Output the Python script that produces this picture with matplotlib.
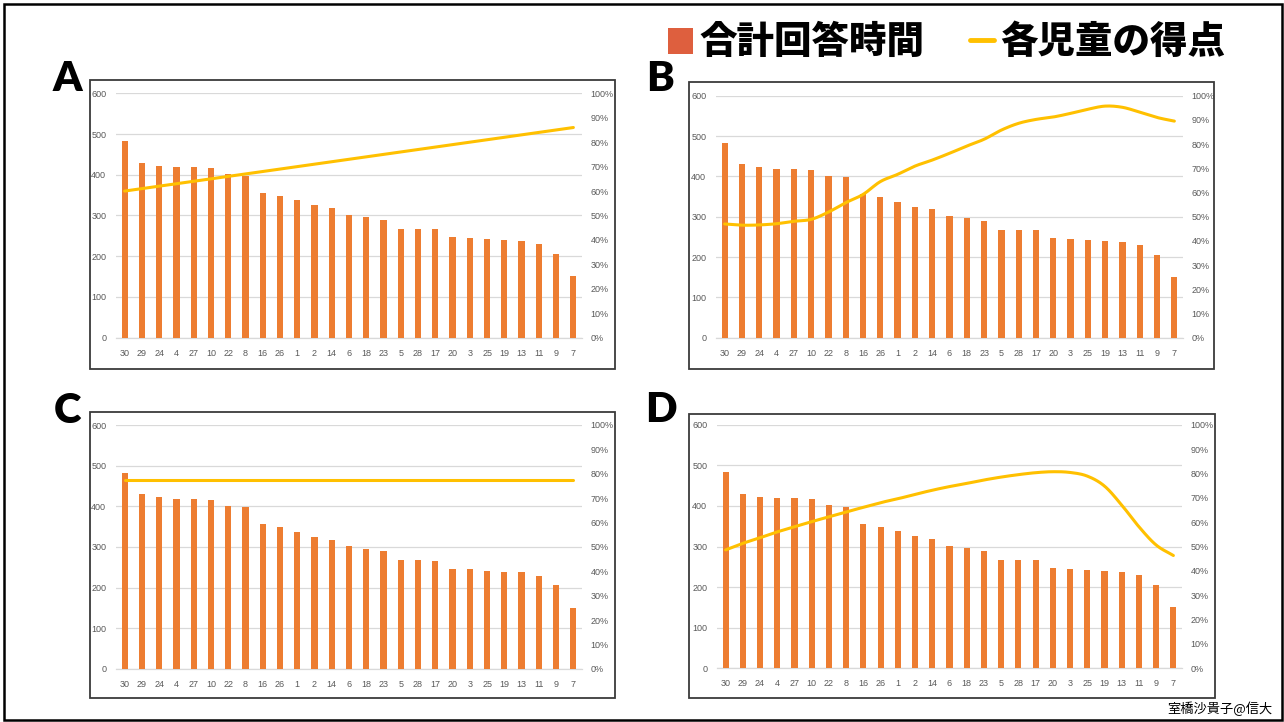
import numpy as np
import matplotlib
matplotlib.use("Agg")
import matplotlib.pyplot as plt
from matplotlib.patches import Rectangle
from matplotlib.lines import Line2D
from matplotlib.ticker import FuncFormatter

plt.rcParams['font.family'] = ['Noto Sans CJK JP', 'DejaVu Sans']

# Children, ordered by total answer time (seconds)
children = ["30", "29", "24", "4", "27", "10", "22", "8", "16", "26", "1", "2", "14",
            "6", "18", "23", "5", "28", "17", "20", "3", "25", "19", "13", "11", "9", "7"]
answer_time = [483, 430, 422, 419, 419, 416, 402, 398, 356, 348, 337, 325, 318,
               302, 296, 289, 267, 267, 266, 247, 245, 242, 239, 238, 229, 206, 151]

# Score of each child (%) under four hypothetical patterns
score_a = [60, 61, 62, 63, 64, 65, 66, 67, 68, 69, 70, 71, 72, 73, 74, 75, 76,
           77, 78, 79, 80, 81, 82, 83, 84, 85, 86]
score_b = [47.0, 46.5, 46.6, 47.1, 48.1, 48.9, 51.9, 55.8, 59.2, 64.5, 67.5, 70.9, 73.4,
           76.2, 79.2, 82.0, 85.8, 88.6, 90.2, 91.2, 92.7, 94.4, 95.7, 95.2, 93.2, 91.0, 89.5]
score_c = [77.5] * 27
score_d = [48.6, 51.3, 53.6, 56.0, 58.1, 60.2, 62.2, 64.2, 66.1, 68.0, 69.6, 71.4, 73.1,
           74.6, 75.9, 77.3, 78.5, 79.5, 80.3, 80.7, 80.4, 78.9, 74.8, 67.0, 58.1, 50.6, 46.3]

legend_bar = "合計回答時間"
legend_line = "各児童の得点"
credit = "室橋沙貴子@信大"

BAR = "#ED7D31"
LINE = "#FFC000"
GRID = "#D9D9D9"
TICK = "#595959"

W, H = 1284, 722
fig = plt.figure(figsize=(W / 100, H / 100), dpi=100)


def fx(x):
    return x / W


def fy(y):
    return 1 - y / H


def smooth(y, n=12):
    """Catmull-Rom curve through the points (x = index)."""
    y = np.asarray(y, float)
    p = np.concatenate([[2 * y[0] - y[1]], y, [2 * y[-1] - y[-2]]])
    xs, ys = [], []
    for i in range(len(y) - 1):
        p0, p1, p2, p3 = p[i], p[i + 1], p[i + 2], p[i + 3]
        t = np.linspace(0, 1, n, endpoint=False)
        seg = 0.5 * ((2 * p1) + (-p0 + p2) * t + (2 * p0 - 5 * p1 + 4 * p2 - p3) * t ** 2
                     + (-p0 + 3 * p1 - 3 * p2 + p3) * t ** 3)
        xs.append(i + t)
        ys.append(seg)
    xs.append([len(y) - 1])
    ys.append([y[-1]])
    return np.concatenate(xs), np.concatenate(ys)


# Outer frame
fig.add_artist(Rectangle((fx(4), fy(720)), fx(1278), 716 / H, transform=fig.transFigure,
                         fill=False, edgecolor="black", linewidth=1.8))

panels = [
    ("A", (90, 80, 615, 369), (116, 93.3, 582, 337.7), (67, 79), score_a, False),
    ("B", (689, 82, 1214, 369), (716, 95.7, 1183, 337.7), (660, 79), score_b, True),
    ("C", (90, 412, 615, 698), (116, 425, 582, 669), (67, 411), score_c, False),
    ("D", (689, 414, 1215, 698), (717, 424.7, 1182, 668.3), (661, 410), score_d, True),
]

for letter, box, area, lpos, score, curved in panels:
    bx0, by0, bx1, by1 = box
    fig.add_artist(Rectangle((fx(bx0), fy(by1)), (bx1 - bx0) / W, (by1 - by0) / H,
                             transform=fig.transFigure, fill=False,
                             edgecolor="#3A3A3A", linewidth=1.3))
    fig.text(fx(lpos[0]), fy(lpos[1]), letter, family=["Lato", "DejaVu Sans"],
             fontweight="heavy", fontsize=30, ha="center", va="center", color="black")

    x0, y0, x1, y1 = area
    ax = fig.add_axes([fx(x0), fy(y1), (x1 - x0) / W, (y1 - y0) / H])
    idx = np.arange(len(children))
    ax.bar(idx, answer_time, width=0.36, color=BAR, zorder=3)
    ax.set_xlim(-0.5, len(children) - 0.5)
    ax.set_ylim(0, 600)
    ax.set_yticks(range(0, 601, 100))
    ax.set_xticks(idx)
    ax.set_xticklabels(children)
    ax.grid(axis="y", color=GRID, linewidth=0.9, zorder=0)
    for s in ("top", "left", "right"):
        ax.spines[s].set_visible(False)
    ax.spines["bottom"].set_color(GRID)
    ax.spines["bottom"].set_linewidth(0.9)
    ax.tick_params(length=0, labelsize=6.5, labelcolor=TICK)
    ax.tick_params(axis="y", pad=7)
    ax.tick_params(axis="x", pad=8)
    for lab in ax.get_xticklabels() + ax.get_yticklabels():
        lab.set_family(["Liberation Sans Narrow", "Liberation Sans", "DejaVu Sans"])

    ax2 = ax.twinx()
    ax2.set_ylim(0, 100)
    ax2.set_yticks(range(0, 101, 10))
    ax2.yaxis.set_major_formatter(FuncFormatter(lambda v, _: f"{int(v)}%"))
    for s in ax2.spines.values():
        s.set_visible(False)
    ax2.tick_params(length=0, labelsize=6.5, labelcolor=TICK, pad=6)
    for lab in ax2.get_yticklabels():
        lab.set_family(["Liberation Sans Narrow", "Liberation Sans", "DejaVu Sans"])
    if curved:
        sx, sy = smooth(score)
        ax2.plot(sx, sy, color=LINE, linewidth=2.2, solid_capstyle="round", zorder=4)
    else:
        ax2.plot(idx, score, color=LINE, linewidth=2.2, solid_capstyle="round", zorder=4)

# Legend at the top
fig.add_artist(Rectangle((fx(668), fy(54)), 25 / W, 26 / H, transform=fig.transFigure,
                         facecolor="#DE5F3E", edgecolor="none"))
fig.text(fx(699), fy(42), legend_bar, fontsize=27, fontweight="heavy",
         ha="left", va="center", color="black")
fig.add_artist(Line2D([fx(970), fx(994)], [fy(40), fy(40)], transform=fig.transFigure,
                      color=LINE, linewidth=3.5, solid_capstyle="round"))
fig.text(fx(1000), fy(42), legend_line, fontsize=27, fontweight="heavy",
         ha="left", va="center", color="black")

fig.text(fx(1273), fy(709), credit, fontsize=9.5, ha="right", va="center", color="black")

fig.savefig("out.png", dpi=100)
